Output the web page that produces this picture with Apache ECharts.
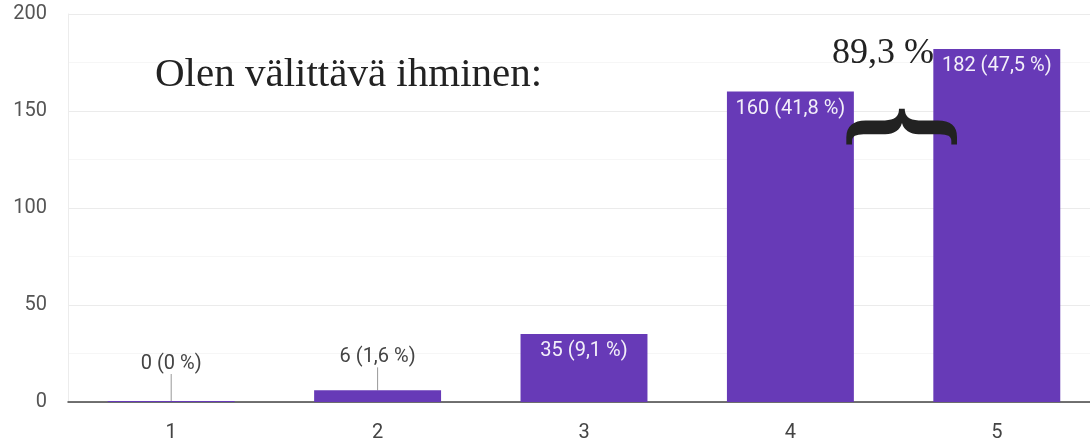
<!DOCTYPE html>
<html>
<head>
<meta charset="utf-8">
<script src="https://cdn.jsdelivr.net/npm/echarts@6/dist/echarts.min.js"></script>
<style>
  html, body { margin: 0; padding: 0; overflow: hidden; background: #fff; }
  #chart { width: 1100px; height: 440px; }
</style>
</head>
<body>
<div id="chart"></div>
<script>
// vastaukset asteikolla 1-5
const categories = ['1', '2', '3', '4', '5'];
const counts = [0, 6, 35, 160, 182];
const percents = ['0 %', '1,6 %', '9,1 %', '41,8 %', '47,5 %'];
const yTicks = [0, 50, 100, 150, 200];
const title = 'Olen välittävä ihminen:';
const topShare = '89,3 %';

const barColor = '#673ab7';
const sans = 'Roboto, sans-serif';

// pienet arvot: selite palkin yläpuolelle viivan kanssa
const barData = counts.map(function (v, i) {
  if (v < 20) {
    return {
      value: v,
      label: { position: 'top', distance: 4, color: '#444' },
      labelLine: { show: true, lineStyle: { color: '#999', width: 1 } }
    };
  }
  return v;
});

const chart = echarts.init(document.getElementById('chart'));
chart.setOption({
  animation: false,
  grid: { left: 68, right: 0, top: 14, bottom: 38, outerBoundsMode: 'none' },
  xAxis: {
    type: 'category',
    data: categories,
    axisTick: { show: false },
    axisLine: { lineStyle: { color: '#444', width: 1.5 } },
    axisLabel: { color: '#444', fontSize: 20, fontFamily: sans, margin: 21 }
  },
  yAxis: {
    type: 'value',
    min: yTicks[0],
    max: yTicks[yTicks.length - 1],
    interval: 50,
    axisLine: { show: true, lineStyle: { color: '#ececec' } },
    axisTick: { show: false },
    axisLabel: { color: '#555', fontSize: 20, fontFamily: sans, margin: 21 },
    splitLine: { lineStyle: { color: '#ebebeb' } },
    minorTick: { show: false, splitNumber: 2 },
    minorSplitLine: { show: true, lineStyle: { color: '#f6f6f6' } }
  },
  series: [{
    type: 'bar',
    data: barData,
    barWidth: '61.5%',
    barMinHeight: 1,
    itemStyle: { color: barColor },
    label: {
      show: true,
      position: 'insideTop',
      distance: 7,
      color: 'rgba(255,255,255,0.92)',
      fontSize: 20,
      fontFamily: sans,
      formatter: function (p) {
        return counts[p.dataIndex] + ' (' + percents[p.dataIndex] + ')';
      }
    },
    labelLayout: function (p) {
      if (counts[p.dataIndex] < 20) {
        return { dy: p.dataIndex === 0 ? -23 : -19 };
      }
    }
  }],
  graphic: [
    {
      type: 'text', left: 155, top: 55, z: 100,
      style: { text: title, font: '41px "Liberation Serif"', fill: '#222' }
    },
    {
      type: 'text', left: 832, top: 36, z: 100,
      style: { text: topShare, font: '36px "Liberation Serif"', fill: '#222' }
    },
    {
      type: 'text', x: 898, y: 127, z: 100, rotation: -Math.PI / 2, scaleX: 0.83,
      style: {
        text: '{', font: 'bold 133px "Liberation Serif"', fill: '#222',
        align: 'center', verticalAlign: 'middle'
      }
    }
  ]
});
</script>
</body>
</html>
